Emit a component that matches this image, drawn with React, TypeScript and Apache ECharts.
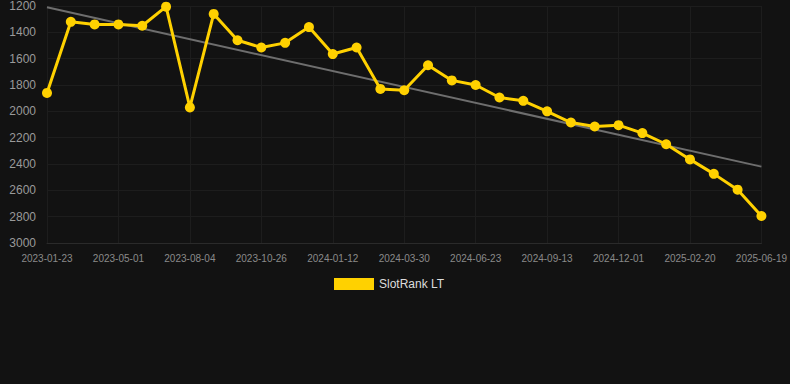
import React, { useEffect, useRef } from "react";
import * as echarts from "echarts";

const dates = [
  "2023-01-23", "2023-02-24", "2023-03-29", "2023-05-01", "2023-06-02", "2023-07-04",
  "2023-08-04", "2023-09-01", "2023-09-28", "2023-10-26", "2023-11-21", "2023-12-17",
  "2024-01-12", "2024-02-07", "2024-03-04", "2024-03-30", "2024-04-27", "2024-05-25",
  "2024-06-23", "2024-07-20", "2024-08-16", "2024-09-13", "2024-10-09", "2024-11-04",
  "2024-12-01", "2024-12-28", "2025-01-24", "2025-02-20", "2025-03-31", "2025-05-10",
  "2025-06-19",
];
const rankValues = [
  1860, 1320, 1340, 1340, 1350, 1205, 1970, 1260, 1460, 1515, 1480, 1360,
  1565, 1515, 1830, 1840, 1650, 1765, 1800, 1895, 1920, 2000, 2085, 2115,
  2105, 2165, 2250, 2365, 2475, 2595, 2795,
];
const trendPoints: [number, number][] = [
  [0, 1210],
  [30, 2420],
];
const seriesName = "SlotRank LT";
const font = "Arial, 'Liberation Sans', sans-serif";

export default function App() {
  const ref = useRef<HTMLDivElement>(null);
  useEffect(() => {
    if (!ref.current) return;
    const chart = echarts.init(ref.current, null, { renderer: "svg" });
    chart.setOption({
      animation: false,
      backgroundColor: "#121212",
      grid: { left: 47, right: 28, top: 6, bottom: 141, containLabel: false },
      legend: {
        data: [{ name: seriesName, icon: "rect" }],
        top: 273,
        left: 329,
        itemWidth: 40,
        itemHeight: 12,
        itemGap: 7,
        textStyle: { color: "#dddddd", fontSize: 12, fontFamily: font },
      },
      xAxis: {
        type: "category",
        data: dates,
        boundaryGap: false,
        axisLine: { show: true, lineStyle: { color: "#2a2a2a" } },
        axisTick: { show: false },
        axisLabel: {
          interval: 2,
          color: "#8a8a8a",
          fontSize: 10,
          margin: 10,
          fontFamily: font,
        },
        splitLine: { show: true, interval: 2, lineStyle: { color: "#1d1d1d", width: 1 } },
      },
      yAxis: {
        type: "value",
        inverse: true,
        min: 1200,
        max: 3000,
        interval: 200,
        axisLine: { show: false },
        axisTick: { show: false },
        axisLabel: {
          color: "#9a9a9a",
          fontSize: 12,
          margin: 11,
          fontFamily: font,
          formatter: (v: number) => String(v),
        },
        splitLine: { show: true, lineStyle: { color: "#1d1d1d", width: 1 } },
      },
      series: [
        {
          name: "trend",
          type: "line",
          data: trendPoints,
          symbol: "none",
          lineStyle: { color: "#6e6e6e", width: 2 },
          silent: true,
          z: 2,
        },
        {
          name: seriesName,
          type: "line",
          data: rankValues,
          symbol: "circle",
          symbolSize: 10,
          itemStyle: { color: "#FFD100" },
          lineStyle: { color: "#FFD100", width: 3 },
          z: 3,
        },
      ],
    });
    return () => chart.dispose();
  }, []);
  return (
    <div
      ref={ref}
      style={{ position: "fixed", left: 0, top: 0, width: 790, height: 384 }}
    />
  );
}
